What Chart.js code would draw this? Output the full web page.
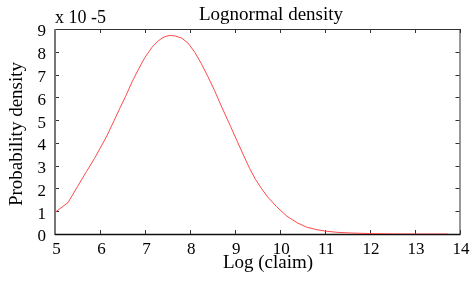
<!DOCTYPE html>
<html>
<head>
<meta charset="utf-8">
<script src="https://cdn.jsdelivr.net/npm/chart.js@4.4.0/dist/chart.umd.min.js"></script>
<style>
html, body { margin: 0; padding: 0; background: #fff; }
#wrap { width: 473px; height: 284px; }
</style>
</head>
<body>
<div id="wrap"><canvas id="chartDensity" width="473" height="284"></canvas></div>
<script>
// log(claim) values and density (units of 10^-5)
var logClaim = [5.00, 5.29, 5.50, 5.70, 5.88, 6.00, 6.14, 6.32, 6.45, 6.57, 6.72, 6.87, 7.00, 7.16, 7.28, 7.38, 7.47, 7.56, 7.68, 7.82, 7.96, 8.11, 8.25, 8.40, 8.55, 8.70, 8.91, 9.07, 9.21, 9.33, 9.46, 9.60, 9.73, 9.93, 10.16, 10.40, 10.60, 10.80, 11.00, 11.30, 11.63, 12.00, 12.50, 13.00, 13.75];
var density = [0.95, 1.38, 2.08, 2.74, 3.32, 3.75, 4.25, 5.00, 5.55, 6.04, 6.70, 7.28, 7.75, 8.20, 8.45, 8.60, 8.68, 8.72, 8.69, 8.60, 8.38, 7.98, 7.50, 6.92, 6.30, 5.62, 4.71, 4.00, 3.39, 2.88, 2.40, 1.98, 1.63, 1.20, 0.78, 0.48, 0.30, 0.20, 0.13, 0.07, 0.04, 0.02, 0.005, 0.00, 0.00];
var xTicks = [5, 6, 7, 8, 9, 10, 11, 12, 13, 14];
var yTicks = [0, 1, 2, 3, 4, 5, 6, 7, 8, 9];

var titleText = 'Lognormal density';
var xLabel = 'Log (claim)';
var yLabel = 'Probability density';
var expText = 'x 10 -5';

var serif = '"Liberation Serif", "Times New Roman", serif';

var points = [];
for (var i = 0; i < logClaim.length; i++) {
	points.push({ x: logClaim[i], y: density[i] });
}

// matlab style box with inward ticks + free text
var boxPlugin = {
	id: 'box',
	beforeDatasetsDraw: function(chart) {
		var ctx = chart.ctx;
		var a = chart.chartArea;
		var xs = chart.scales.x, ys = chart.scales.y;
		var tl = 4;
		ctx.save();
		ctx.lineWidth = 1;
		ctx.strokeStyle = '#333';
		ctx.beginPath();
		ctx.moveTo(a.left + 0.5, a.top + 0.5);
		ctx.lineTo(a.right + 0.5, a.top + 0.5);
		ctx.lineTo(a.right + 0.5, a.bottom + 0.5);
		ctx.stroke();
		xTicks.forEach(function(v) {
			var px = Math.round(xs.getPixelForValue(v)) + 0.5;
			ctx.beginPath();
			ctx.moveTo(px, a.bottom);
			ctx.lineTo(px, a.bottom - tl);
			ctx.moveTo(px, a.top);
			ctx.lineTo(px, a.top + tl);
			ctx.stroke();
		});
		yTicks.forEach(function(v) {
			var py = Math.round(ys.getPixelForValue(v)) + 0.5;
			ctx.beginPath();
			ctx.moveTo(a.left, py);
			ctx.lineTo(a.left + tl, py);
			ctx.moveTo(a.right, py);
			ctx.lineTo(a.right - tl, py);
			ctx.stroke();
		});
		// left axis grey, bottom axis black
		ctx.strokeStyle = '#777';
		ctx.lineWidth = 2;
		ctx.beginPath();
		ctx.moveTo(a.left, a.top);
		ctx.lineTo(a.left, a.bottom + 1);
		ctx.stroke();
		ctx.strokeStyle = '#111';
		ctx.lineWidth = 1.5;
		ctx.beginPath();
		ctx.moveTo(a.left, a.bottom + 0.5);
		ctx.lineTo(a.right + 1, a.bottom + 0.5);
		ctx.stroke();
		ctx.restore();
	},
	afterDraw: function(chart) {
		var ctx = chart.ctx;
		ctx.save();
		ctx.fillStyle = '#000';
		ctx.textBaseline = 'alphabetic';
		ctx.font = '19px ' + serif;
		ctx.textAlign = 'center';
		ctx.fillText(titleText, 271, 20);
		ctx.fillText(xLabel, 268, 268);
		ctx.font = '18px ' + serif;
		ctx.textAlign = 'left';
		ctx.fillText(expText, 55, 23);
		ctx.translate(22, 134);
		ctx.rotate(-Math.PI / 2);
		ctx.font = '19px ' + serif;
		ctx.textAlign = 'center';
		ctx.fillText(yLabel, 0, 0);
		ctx.restore();
	}
};

var ctxDensity = document.getElementById('chartDensity').getContext('2d');
var chartDensity = new Chart(ctxDensity, {
	type: 'line',
	data: {
		datasets: [{
			data: points,
			borderColor: '#ff4a4a',
			borderWidth: 1,
			pointRadius: 0,
			tension: 0,
			fill: false
		}]
	},
	options: {
		responsive: false,
		animation: false,
		layout: { padding: { top: 29, right: 8, left: 0, bottom: 0 } },
		plugins: {
			legend: { display: false },
			tooltip: { enabled: false },
			title: { display: false }
		},
		scales: {
			x: {
				type: 'linear',
				min: 5,
				max: 14,
				afterFit: function(s) { s.height = 50; },
				afterBuildTicks: function(s) { s.ticks = xTicks.map(function(v) { return { value: v }; }); },
				grid: { display: false, drawTicks: false },
				border: { display: false },
				ticks: {
					color: '#000',
					font: { family: serif, size: 17 },
					padding: 5,
					labelOffset: 1.5,
					maxRotation: 0,
					autoSkip: false
				}
			},
			y: {
				type: 'linear',
				min: 0,
				max: 9,
				afterFit: function(s) { s.width = 55; },
				afterBuildTicks: function(s) { s.ticks = yTicks.map(function(v) { return { value: v }; }); },
				grid: { display: false, drawTicks: false },
				border: { display: false },
				ticks: {
					color: '#000',
					font: { family: serif, size: 17 },
					padding: 9,
					labelOffset: 3,
					autoSkip: false
				}
			}
		}
	},
	plugins: [boxPlugin]
});
</script>
</body>
</html>
